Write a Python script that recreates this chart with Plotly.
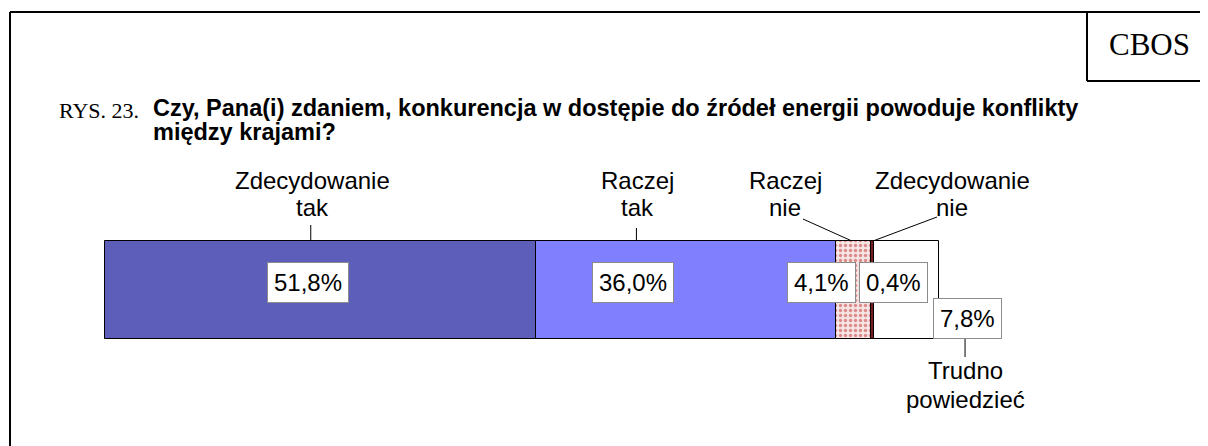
import plotly.graph_objects as go

# ---------------- data ----------------
categories = ["Zdecydowanie tak", "Raczej tak", "Raczej nie", "Zdecydowanie nie", "Trudno powiedzieć"]
values = [51.8, 36.0, 4.1, 0.4, 7.8]
value_labels = ["51,8%", "36,0%", "4,1%", "0,4%", "7,8%"]
category_lines = [["Zdecydowanie", "tak"], ["Raczej", "tak"], ["Raczej", "nie"],
                  ["Zdecydowanie", "nie"], ["Trudno", "powiedzieć"]]
title_prefix = "RYS. 23."
title_lines = ["Czy, Pana(i) zdaniem, konkurencja w dostępie do źródeł energii powoduje konflikty",
               "między krajami?"]
brand = "CBOS"

# ---------------- layout constants (window pixels) ----------------
WIN_W, WIN_H = 1208, 446
PAGE_MARGIN = 8                      # default body margin of the html page
W, H = WIN_W - PAGE_MARGIN, WIN_H - PAGE_MARGIN
BAR_LEFT, BAR_RIGHT = 105, 938       # window-pixel span of 0..100 %
BAR_CENTER, BAR_THICK = 290, 98
SCALE = (BAR_RIGHT - BAR_LEFT) / 100.0

SANS = "Liberation Sans, Arial, sans-serif"
SERIF = "Liberation Serif, Times New Roman, serif"

colors = ["#5C5EBA", "#8080FF", "#F6E2E2", "#7A1E1E", "#FFFFFF"]
patterns = [None, None,
            dict(shape=".", fgcolor="#C0302E", bgcolor="#F6E4E4", size=5, solidity=0.35),
            dict(shape=".", fgcolor="#D04040", bgcolor="#6E1A1A", size=3, solidity=0.3),
            None]

# label placement: pixel shifts from each segment's middle
value_xshift = [-13, -53, -32, 21, 61]
value_y = [282, 282, 282, 282, 318]
cat_xshift = [-8, -49, -68, 80, 59]
cat_y = [(180, 207), (180, 207), (180, 207), (180, 207), (370, 399)]
# leader lines: (dx0, y0, dx1, y1) pixel offsets from segment middle
leaders = [(-10, 225, -10, 241), (-50, 228, -50, 241), (-50.5, 219, -1.5, 241),
           (64.8, 217, 0.8, 241), (58.7, 336, 58.7, 357)]

fig = go.Figure()
cum = 0.0
mids = []
for i, (cat, v) in enumerate(zip(categories, values)):
    marker = dict(color=colors[i], line=dict(color="#000000", width=1))
    if patterns[i]:
        marker["pattern"] = patterns[i]
    fig.add_trace(go.Bar(
        y=[BAR_CENTER], x=[v], base=[cum], orientation="h", width=BAR_THICK,
        name=cat, marker=marker, hoverinfo="name+x", showlegend=False,
    ))
    mids.append(cum + v / 2)
    cum += v

annotations = []
shapes = []
for i in range(len(values)):
    annotations.append(dict(
        x=mids[i], y=value_y[i], xref="x", yref="y", text=value_labels[i],
        showarrow=False, xshift=value_xshift[i], xanchor="center", yanchor="middle",
        font=dict(family=SANS, size=24, color="#000000"),
        bgcolor="#FFFFFF", bordercolor="#8C8C8C", borderwidth=1, borderpad=6,
    ))
    for line, yy in zip(category_lines[i], cat_y[i]):
        annotations.append(dict(
            x=mids[i], y=yy, xref="x", yref="y", text=line, showarrow=False,
            xshift=cat_xshift[i], xanchor="center", yanchor="middle",
            font=dict(family=SANS, size=24, color="#000000"),
        ))
    dx0, y0, dx1, y1 = leaders[i]
    shapes.append(dict(
        type="line", xref="x", yref="y", xsizemode="pixel", xanchor=mids[i],
        x0=dx0, x1=dx1, y0=y0, y1=y1, line=dict(color="#000000", width=1),
    ))


def px(xp):
    return (xp - PAGE_MARGIN) / W


def py(yp):
    return 1 - (yp - PAGE_MARGIN) / H


annotations.append(dict(x=px(57), y=py(110), xref="paper", yref="paper", text=title_prefix,
                        showarrow=False, xanchor="left", yanchor="middle",
                        font=dict(family=SERIF, size=22, color="#000000")))
for line, yy in zip(title_lines, [108, 132]):
    annotations.append(dict(x=px(151), y=py(yy), xref="paper", yref="paper",
                            text="<b>" + line + "</b>", showarrow=False,
                            xanchor="left", yanchor="middle",
                            font=dict(family=SANS, size=23.5, color="#000000")))
annotations.append(dict(x=px(1149), y=py(45), xref="paper", yref="paper", text=brand,
                        showarrow=False, xanchor="center", yanchor="middle",
                        font=dict(family=SERIF, size=31, color="#000000")))

frame_line = dict(color="#000000", width=2)
shapes += [
    dict(type="line", xref="paper", yref="paper", x0=px(10), x1=px(1212), y0=py(12), y1=py(12), line=frame_line),
    dict(type="line", xref="paper", yref="paper", x0=px(10), x1=px(10), y0=py(12), y1=py(450), line=frame_line),
    dict(type="line", xref="paper", yref="paper", x0=px(1087), x1=px(1087), y0=py(12), y1=py(81), line=frame_line),
    dict(type="line", xref="paper", yref="paper", x0=px(1087), x1=px(1212), y0=py(81), y1=py(81), line=frame_line),
]

fig.update_layout(
    width=W, height=H, margin=dict(l=0, r=0, t=0, b=0),
    paper_bgcolor="#FFFFFF", plot_bgcolor="#FFFFFF",
    barmode="overlay", bargap=0,
    xaxis=dict(range=[(PAGE_MARGIN - BAR_LEFT) / SCALE, (WIN_W - BAR_LEFT) / SCALE],
               domain=[0, 1], visible=False, fixedrange=True),
    yaxis=dict(range=[WIN_H, PAGE_MARGIN], domain=[0, 1], visible=False, fixedrange=True),
    annotations=annotations, shapes=shapes,
)

fig.write_html("out.html")
